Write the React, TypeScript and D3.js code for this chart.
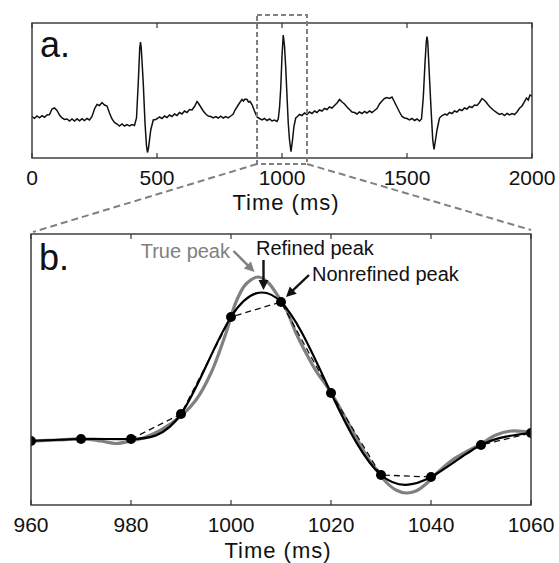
import React from "react";
import * as d3 from "d3";

// ---------- Panel a: ECG trace (time ms, amplitude a.u.) ----------
const ecgTrace: [number, number][] = [
  [0,1.5],[10,-0.3],[20,2.0],[30,0.2],[40,2.4],[50,0.8],[60,3.0],[70,3.5],[80,9.0],[90,10.0],[100,7.5],[110,3.0],[120,0],[130,-1.5],
  [140,-1.0],[150,-3.0],[160,-1.0],[170,-3.0],[180,-0.8],[190,-2.8],[200,-0.8],[210,-2.6],[220,-0.5],[230,-2.0],[240,1.5],[250,9],
  [260,13.5],[270,12.5],[280,15.5],[290,13],[300,12],[310,5],[320,-1],[330,-4.5],[340,-6],[350,-8],[360,-6],[370,-8],[380,-6.5],
  [390,-8],[400,-6.5],[410,-7.5],[418,0],[425,35],[431,70],[434,76],[437,70],[445,35],[452,-5],[458,-28],[462,-34.5],[466,-30],
  [475,-12],[485,-2],[495,-1.5],[505,0],[510,1],[520,-0.5],[530,2],[540,0.5],[550,3],[560,1.5],[570,4],[580,2.5],[590,5.5],
  [600,4],[610,7],[620,5.5],[630,8.5],[640,8],[650,11.5],[660,16.5],[665,15],[675,11],[685,7],[695,4],[705,2],[715,1.5],[725,0],
  [735,1.5],[745,0],[755,1.8],[765,0],[775,1.5],[785,0.2],[795,2],[805,4],[812,8],[820,11],[830,15],[840,18.5],[846,17],[852,19],
  [860,18.5],[866,16],[872,16.5],[880,13.5],[890,7],[900,1],[910,-0.5],[920,-2],[930,-0.5],[940,-2.5],[950,-1],[960,-3],[970,-2],
  [980,-3.5],[985,-1],[990,10],[995,30],[1000,62],[1005,83],[1010,72],[1015,50],[1020,22],[1025,-5],[1030,-22],[1036,-33.7],
  [1042,-22],[1048,-8],[1055,0],[1062,1.5],[1070,3.5],[1080,2.5],[1090,5],[1100,3.5],[1110,6],[1120,4.5],[1130,7],[1140,5.5],
  [1150,8],[1160,7],[1170,9.5],[1180,8.5],[1190,11],[1200,10],[1210,12.5],[1220,15],[1230,18.5],[1240,16],[1250,14],[1260,11],
  [1270,8.5],[1280,6],[1290,5.5],[1300,4],[1310,6],[1320,4.5],[1330,6.5],[1340,5],[1350,7],[1360,5.5],[1370,7.5],[1380,9.5],
  [1390,14],[1400,17],[1410,19.5],[1420,20.5],[1430,19.5],[1440,21],[1450,16],[1460,11],[1470,6],[1480,1.5],[1490,0],[1500,-0.5],
  [1510,-2],[1520,-0.5],[1530,-2.5],[1540,-1],[1550,-3],[1558,-1],[1565,20],[1572,55],[1577,76],[1580,81.3],[1583,76],[1590,40],
  [1597,5],[1603,-22],[1608,-31.3],[1614,-22],[1620,-12],[1630,0],[1640,2.5],[1652,4],[1660,3],[1670,5.5],[1680,4.5],[1690,7],
  [1700,6],[1710,8.5],[1720,7.5],[1730,10],[1740,9],[1750,11.5],[1760,10.5],[1770,13],[1780,12.5],[1790,15.5],[1800,19.5],
  [1808,18],[1816,16],[1825,13],[1832,11],[1845,8],[1859,5.3],[1870,3.5],[1880,4.5],[1890,2.5],[1900,4.5],[1910,3],[1920,4.5],
  [1930,3.5],[1940,6],[1950,9.7],[1960,12],[1970,16.3],[1978,20],[1985,18],[1992,23],[2000,22],
];
const ticksA = [0, 500, 1000, 1500, 2000];
const zoomWindow = [900, 1100];

// ---------- Panel b: zoom on the R peak ----------
const sampleTimes = [960, 970, 980, 990, 1000, 1010, 1020, 1030, 1040, 1050, 1060];
const sampleValues = [64, 66, 66, 91, 188, 203, 112, 30, 28, 60, 72];
const trueSignal: [number, number][] = [
  [958,64],[960,64],[965,65],[970,66],[974,64],[977,61.5],[980,64],[983,68],[986,75],[990,89],[993,105],[996,132],[999,172],
  [1001,203],[1003,221],[1005.5,228],[1007.5,222],[1009,212],[1011,196],[1013,172],[1015,152],[1017,134],[1019,120],[1021,104],
  [1023,86],[1025,68],[1027,50],[1029,36],[1031,23],[1033,15],[1035,12],[1037,14],[1039,21],[1041,31],[1044,44],[1047,53],
  [1050,61],[1053,70],[1056,74],[1060,73],[1062,73],
];
const ticksB = [960, 980, 1000, 1020, 1040, 1060];
const labelTrue = "True peak";
const labelRefined = "Refined peak";
const labelNonrefined = "Nonrefined peak";
const axisLabel = "Time (ms)";

const FONT = "'Liberation Sans', Arial, Helvetica, sans-serif";
const GREY = "#808080";

function Arrow({ x1, y1, x2, y2, color }: { x1: number; y1: number; x2: number; y2: number; color: string }) {
  const dx = x2 - x1, dy = y2 - y1;
  const len = Math.hypot(dx, dy);
  const ux = dx / len, uy = dy / len;
  const hl = 10, hw = 5;
  const bx = x2 - ux * hl, by = y2 - uy * hl;
  const px = -uy, py = ux;
  return (
    <g>
      <line x1={x1} y1={y1} x2={bx + ux * 2} y2={by + uy * 2} stroke={color} strokeWidth={2.4} />
      <polygon points={`${x2},${y2} ${bx + px * hw},${by + py * hw} ${bx - px * hw},${by - py * hw}`} fill={color} />
    </g>
  );
}

export default function App() {
  // scales
  const xA = d3.scaleLinear().domain([0, 2000]).range([32, 532]);
  const yA = d3.scaleLinear().domain([-40, 95]).range([158, 23]);
  const xB = d3.scaleLinear().domain([960, 1060]).range([31, 531]);
  const yB = d3.scaleLinear().domain([0, 271]).range([505, 234]);

  const lineA = d3.line<[number, number]>().x((d) => xA(d[0])).y((d) => yA(d[1]));
  const samples: [number, number][] = sampleTimes.map((t, i) => [t, sampleValues[i]]);
  const lineLinear = d3.line<[number, number]>().x((d) => xB(d[0])).y((d) => yB(d[1]));
  const lineSpline = d3.line<[number, number]>().x((d) => xB(d[0])).y((d) => yB(d[1])).curve(d3.curveNatural);
  const lineTrue = d3.line<[number, number]>().x((d) => xB(d[0])).y((d) => yB(d[1])).curve(d3.curveCatmullRom);

  const [yA0, yA1] = yA.range();
  const [yB0, yB1] = yB.range();

  // zoom rectangle in panel a
  const rx0 = xA(zoomWindow[0]), rx1 = xA(zoomWindow[1]);
  const ry0 = yA1 - 8, ry1 = yA0 + 6;

  // annotation anchors
  const truePeak = trueSignal.reduce((a, b) => (b[1] > a[1] ? b : a));
  const tpx = xB(truePeak[0]), tpy = yB(truePeak[1]);
  const refX = xB(1006.5), refY = yB(212);
  const nrX = xB(sampleTimes[5]), nrY = yB(sampleValues[5]);

  return (
    <svg width={559} height={563} style={{ position: "absolute", left: 0, top: 0, background: "#fff" }} fontFamily={FONT}>
      <defs>
        <clipPath id="clipA"><rect x={32} y={23} width={500} height={135} /></clipPath>
        <clipPath id="clipB"><rect x={31} y={234} width={500} height={271} /></clipPath>
      </defs>

      {/* ---------- Panel a ---------- */}
      <path d={lineA(ecgTrace) || ""} fill="none" stroke="#111" strokeWidth={1.5} clipPath="url(#clipA)" />
      <rect x={32} y={yA1} width={500} height={yA0 - yA1} fill="none" stroke="#333" strokeWidth={1.4} />
      {ticksA.map((t) => (
        <g key={"ta" + t}>
          <line x1={xA(t)} x2={xA(t)} y1={yA0} y2={yA0 - 5} stroke="#333" strokeWidth={1.2} />
          <line x1={xA(t)} x2={xA(t)} y1={yA1} y2={yA1 + 5} stroke="#333" strokeWidth={1.2} />
          <text x={xA(t)} y={185} textAnchor="middle" fontSize={21} fill="#111">{t}</text>
        </g>
      ))}
      <text x={286} y={210} textAnchor="middle" fontSize={22} letterSpacing={1} fill="#111">{axisLabel}</text>
      <text x={40} y={57} fontSize={36} fill="#111">a.</text>

      {/* zoom window and connectors */}
      <rect x={rx0} y={ry0} width={rx1 - rx0} height={ry1 - ry0} fill="none" stroke={GREY} strokeWidth={2} strokeDasharray="5,3" />
      <line x1={rx0} y1={ry1} x2={33} y2={232} stroke={GREY} strokeWidth={2} strokeDasharray="7,4" />
      <line x1={rx1} y1={ry1} x2={531} y2={230} stroke={GREY} strokeWidth={2} strokeDasharray="7,4" />

      {/* ---------- Panel b ---------- */}
      <g clipPath="url(#clipB)">
        <path d={lineTrue(trueSignal) || ""} fill="none" stroke={GREY} strokeWidth={3.2} />
        <path d={lineLinear(samples) || ""} fill="none" stroke="#111" strokeWidth={1.3} strokeDasharray="6,4" />
        <path d={lineSpline(samples) || ""} fill="none" stroke="#000" strokeWidth={2.2} />
        {samples.map((d) => (
          <circle key={"s" + d[0]} cx={xB(d[0])} cy={yB(d[1])} r={5} fill="#000" />
        ))}
      </g>
      <rect x={31} y={yB1} width={500} height={yB0 - yB1} fill="none" stroke="#333" strokeWidth={1.4} />
      {ticksB.map((t) => (
        <g key={"tb" + t}>
          <line x1={xB(t)} x2={xB(t)} y1={yB0} y2={yB0 - 5} stroke="#333" strokeWidth={1.2} />
          <line x1={xB(t)} x2={xB(t)} y1={yB1} y2={yB1 + 5} stroke="#333" strokeWidth={1.2} />
          <text x={xB(t)} y={532} textAnchor="middle" fontSize={21} fill="#111">{t}</text>
        </g>
      ))}
      <text x={278} y={558} textAnchor="middle" fontSize={22} letterSpacing={1} fill="#111">{axisLabel}</text>
      <text x={39} y={270} fontSize={36} fill="#111">b.</text>

      {/* annotations */}
      <text x={230} y={258} textAnchor="end" fontSize={20} fill={GREY}>{labelTrue}</text>
      <Arrow x1={tpx - 25} y1={tpy - 26} x2={tpx - 4} y2={tpy - 5} color={GREY} />
      <text x={256} y={255} fontSize={20} fill="#111">{labelRefined}</text>
      <Arrow x1={refX} y1={refY - 33} x2={refX} y2={refY - 3} color="#111" />
      <text x={312} y={281} fontSize={20} fill="#111">{labelNonrefined}</text>
      <Arrow x1={nrX + 28} y1={nrY - 27} x2={nrX + 5} y2={nrY - 5} color="#111" />
    </svg>
  );
}
